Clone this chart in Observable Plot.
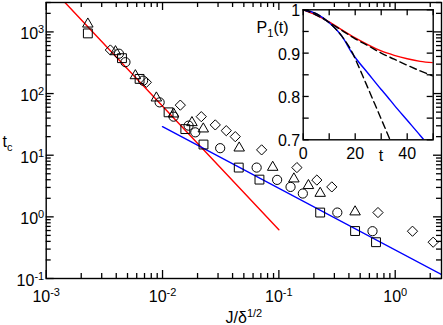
<!DOCTYPE html>
<html><head><meta charset="utf-8">
<script src="https://cdn.jsdelivr.net/npm/d3@7"></script>
<script src="https://cdn.jsdelivr.net/npm/@observablehq/plot@0.6"></script>
<style>
html,body{margin:0;padding:0;background:#fff;}
#wrap{position:relative;width:443px;height:325px;overflow:hidden;background:#fff;}
#wrap svg{position:absolute;left:0;top:0;max-width:none;}
</style></head><body><div id="wrap"></div>
<script>
// ---- main plot data (J/delta^1/2 , t_c) ----
const squareJ   = [0.00228, 0.00448, 0.00635, 0.01127, 0.0157, 0.0225, 0.0452, 0.0681, 0.2265, 0.452, 0.684];
const squareTc  = [946, 375, 173, 49.6, 26.5, 14.9, 6.30, 4.02, 1.174, 0.589, 0.388];
const circleJ   = [0.00422, 0.0048, 0.00681, 0.00944, 0.01244, 0.01675, 0.01912, 0.0313, 0.0644, 0.0966, 0.126, 0.1607, 0.318, 0.638];
const circleTc  = [443, 323, 162, 72.0, 42.2, 30.2, 23.5, 13.0, 6.30, 3.98, 3.06, 2.39, 1.174, 0.585];
const triangleJ = [0.00228, 0.00394, 0.00584, 0.00885, 0.01244, 0.0179, 0.0224, 0.0456, 0.0885, 0.1346, 0.1795, 0.2265, 0.452];
const triangleTc= [1343, 478, 195, 84.9, 46.7, 33.8, 26.7, 13.1, 6.37, 4.13, 3.22, 2.41, 1.205];
const diamondJ  = [0.00356, 0.00726, 0.01422, 0.02153, 0.0284, 0.0353, 0.0422, 0.0711, 0.1429, 0.212, 0.285, 0.711, 1.408, 2.12];
const diamondTc = [509, 152, 64.9, 42.2, 31.0, 25.0, 20.0, 12.2, 6.30, 3.95, 3.06, 1.174, 0.585, 0.388];
const redJ  = [0.00145, 0.1];
const redTc = [3000, 0.62];
const blueJ  = [0.01, 2.5];
const blueTc = [29, 0.116];
// tick labels
const xTickValues = [0.001, 0.01, 0.1, 1];
const xTickExps   = ["-3", "-2", "-1", "0"];
const yTickValues = [0.1, 1, 10, 100, 1000];
const yTickExps   = ["-1", "0", "1", "2", "3"];
// ---- inset data (t , P1(t)) ----
const redT  = [0, 5, 10, 15, 20, 25, 30, 35, 40, 45, 50];
const redP  = [1.0, 0.988, 0.972, 0.953, 0.935, 0.919, 0.905, 0.895, 0.887, 0.881, 0.878];
const dash1T = [0, 5, 10, 15, 20, 25, 30, 35, 40, 45, 50];
const dash1P = [1.0, 0.988, 0.971, 0.952, 0.933, 0.917, 0.900, 0.886, 0.872, 0.859, 0.847];
const blueT = [0, 5, 10, 15, 18.8, 20, 25, 30, 32.3, 35, 40, 45, 46.4];
const blueP = [1.0, 0.991, 0.970, 0.938, 0.900, 0.890, 0.853, 0.816, 0.800, 0.780, 0.745, 0.710, 0.700];
const dash2T = [0, 5, 10, 15, 19, 20, 22.5, 25, 27.5, 30, 33.4];
const dash2P = [1.0, 0.991, 0.970, 0.938, 0.900, 0.887, 0.853, 0.818, 0.783, 0.748, 0.700];
const insetYTicks  = [1, 0.9, 0.8, 0.7];
const insetYLabels = ["1", "0.9", "0.8", "0.7"];
const insetXTicks  = [0, 20, 40];
const insetXLabels = ["0", "20", "40"];

const font = "'Liberation Sans', Arial, Helvetica, sans-serif";
const pts = (xs, ys) => xs.map((x, i) => ({x, y: ys[i]}));

// ---- main plot geometry ----
const W = 443, H = 325;
const mL = 45.7, mR = 2, mT = 2, mB = 47;
const pW = W - mL - mR, pH = H - mT - mB;
const xDom = [0.001, 2.5], yDom = [0.1, 3000];
const xMinor = [], yMinor = [];
for (let e = -3; e <= 0; e++) for (let k = 2; k <= 9; k++) { const v = k * 10 ** e; if (v <= xDom[1]) xMinor.push(v); }
for (let e = -1; e <= 3; e++) for (let k = 2; k <= 9; k++) { const v = k * 10 ** e; if (v <= yDom[1]) yMinor.push(v); }
const maj = 8, mnr = 5;

const main = Plot.plot({
  width: W, height: H, marginLeft: mL, marginRight: mR, marginTop: mT, marginBottom: mB,
  style: {fontFamily: font, background: "transparent", overflow: "visible"},
  x: {type: "log", domain: xDom, axis: null},
  y: {type: "log", domain: yDom, axis: null},
  marks: [
    Plot.line(pts(redJ, redTc), {x: "x", y: "y", stroke: "#ff0000", strokeWidth: 1.4, clip: true}),
    Plot.line(pts(blueJ, blueTc), {x: "x", y: "y", stroke: "#0000ff", strokeWidth: 1.4, clip: true}),
    Plot.dot(pts(squareJ, squareTc), {x: "x", y: "y", symbol: "square", r: 5, stroke: "black", fill: "none", strokeWidth: 1}),
    Plot.dot(pts(circleJ, circleTc), {x: "x", y: "y", symbol: "circle", r: 4.6, stroke: "black", fill: "none", strokeWidth: 1}),
    Plot.dot(pts(triangleJ, triangleTc), {x: "x", y: "y", symbol: "triangle", r: 3.9, stroke: "black", fill: "none", strokeWidth: 1}),
    Plot.dot(pts(diamondJ, diamondTc), {x: "x", y: "y", symbol: "diamond2", r: 4.6, stroke: "black", fill: "none", strokeWidth: 1}),
    // inward ticks
    Plot.tickX(xTickValues, {x: d => d, insetTop: pH - maj, stroke: "black", strokeWidth: 1.3}),
    Plot.tickX(xTickValues, {x: d => d, insetBottom: pH - maj, stroke: "black", strokeWidth: 1.3}),
    Plot.tickX(xMinor, {x: d => d, insetTop: pH - mnr, stroke: "black", strokeWidth: 1.3}),
    Plot.tickX(xMinor, {x: d => d, insetBottom: pH - mnr, stroke: "black", strokeWidth: 1.3}),
    Plot.tickY(yTickValues, {y: d => d, insetRight: pW - maj, stroke: "black", strokeWidth: 1.3}),
    Plot.tickY(yTickValues, {y: d => d, insetLeft: pW - maj, stroke: "black", strokeWidth: 1.3}),
    Plot.tickY(yMinor, {y: d => d, insetRight: pW - mnr, stroke: "black", strokeWidth: 1.3}),
    Plot.tickY(yMinor, {y: d => d, insetLeft: pW - mnr, stroke: "black", strokeWidth: 1.3}),
    Plot.frame({stroke: "black", strokeWidth: 1.4}),
    // tick labels
    Plot.text(xTickValues, {x: d => d, text: (d, i) => `10^{${xTickExps[i]}}`, frameAnchor: "bottom",
      lineAnchor: "bottom", textAnchor: "middle", dy: 23.5, fontSize: 16, fill: "black"}),
    Plot.text(yTickValues, {y: d => d, text: (d, i) => `10^{${yTickExps[i]}}`, frameAnchor: "left",
      lineAnchor: "bottom", textAnchor: "end", dx: -2, dy: 7.5, fontSize: 16, fill: "black"}),
    // axis labels
    Plot.text(["t_{c}"], {frameAnchor: "left", textAnchor: "start", lineAnchor: "bottom",
      dx: 2 - mL, dy: 6, fontSize: 16, fill: "black"}),
    Plot.text(["J/δ^{1/2}"], {frameAnchor: "bottom", textAnchor: "middle", lineAnchor: "bottom",
      dy: 44, dx: 0, fontSize: 16, fill: "black"})
  ]
});

// ---- inset ----
const iL = 302.7, iR = 432.7, iT = 9.3, iB = 139.3;
const iW = iR - iL, iH = iB - iT;
const insetXMinor = [0, 10, 20, 30, 40, 50];
const insetYMinor = [0.7, 0.75, 0.8, 0.85, 0.9, 0.95, 1.0];
const it = 6;
const inset = Plot.plot({
  width: W, height: H, marginLeft: iL, marginRight: W - iR, marginTop: iT, marginBottom: H - iB,
  style: {fontFamily: font, background: "transparent", overflow: "visible"},
  x: {domain: [0, 50], axis: null},
  y: {domain: [0.7, 1], axis: null},
  marks: [
    Plot.frame({fill: "white", stroke: "none"}),
    Plot.line(pts(redT, redP), {x: "x", y: "y", stroke: "#ff0000", strokeWidth: 1.4, curve: "monotone-x", clip: true}),
    Plot.line(pts(dash1T, dash1P), {x: "x", y: "y", stroke: "black", strokeWidth: 1.4, strokeDasharray: "7,4", curve: "monotone-x", clip: true}),
    Plot.line(pts(blueT, blueP), {x: "x", y: "y", stroke: "#0000ff", strokeWidth: 1.4, curve: "monotone-x", clip: true}),
    Plot.line(pts(dash2T, dash2P), {x: "x", y: "y", stroke: "black", strokeWidth: 1.4, strokeDasharray: "7,4", curve: "monotone-x", clip: true}),
    Plot.tickX(insetXMinor, {x: d => d, insetTop: iH - it, stroke: "black", strokeWidth: 1.3}),
    Plot.tickX(insetXMinor, {x: d => d, insetBottom: iH - it, stroke: "black", strokeWidth: 1.3}),
    Plot.tickY(insetYMinor, {y: d => d, insetRight: iW - it, stroke: "black", strokeWidth: 1.3}),
    Plot.tickY(insetYMinor, {y: d => d, insetLeft: iW - it, stroke: "black", strokeWidth: 1.3}),
    Plot.frame({stroke: "black", strokeWidth: 1.4}),
    Plot.text(insetXTicks, {x: d => d, text: (d, i) => insetXLabels[i], frameAnchor: "bottom",
      lineAnchor: "bottom", textAnchor: "middle", dy: 19.5, fontSize: 16, fill: "black"}),
    Plot.text(insetYTicks, {y: d => d, text: (d, i) => insetYLabels[i], frameAnchor: "left",
      lineAnchor: "middle", textAnchor: "end", dx: -3, dy: 1.5, fontSize: 16, fill: "black"}),
    Plot.text(["t"], {frameAnchor: "bottom", textAnchor: "middle", lineAnchor: "bottom",
      dx: 380.5 - (iL + iR) / 2, dy: 21.5, fontSize: 16, fill: "black"}),
    Plot.text(["P_{1}(t)"], {frameAnchor: "top-left", textAnchor: "end", lineAnchor: "bottom",
      dx: 288 - iL, dy: 32 - iT, fontSize: 16, fill: "black"})
  ]
});

// turn ^{..} and _{..} into real superscript / subscript tspans
function richText(svg) {
  d3.select(svg).selectAll("text").each(function () {
    const s = this.textContent;
    if (!/[\^_]\{/.test(s)) return;
    const parts = [];
    const re = /([\^_])\{([^}]*)\}/g;
    let last = 0, m;
    while ((m = re.exec(s))) {
      if (m.index > last) parts.push({t: s.slice(last, m.index), k: ""});
      parts.push({t: m[2], k: m[1]});
      last = re.lastIndex;
    }
    if (last < s.length) parts.push({t: s.slice(last), k: ""});
    this.textContent = "";
    let shift = 0;
    for (const p of parts) {
      const ts = d3.select(this).append("tspan").text(p.t);
      const target = p.k === "^" ? -6 : p.k === "_" ? 4 : 0;
      if (target !== shift) ts.attr("dy", target - shift);
      shift = target;
      if (p.k) ts.attr("font-size", 11);
    }
  });
}
richText(main);
richText(inset);
const wrap = document.getElementById("wrap");
wrap.appendChild(main);
wrap.appendChild(inset);
</script></body></html>
